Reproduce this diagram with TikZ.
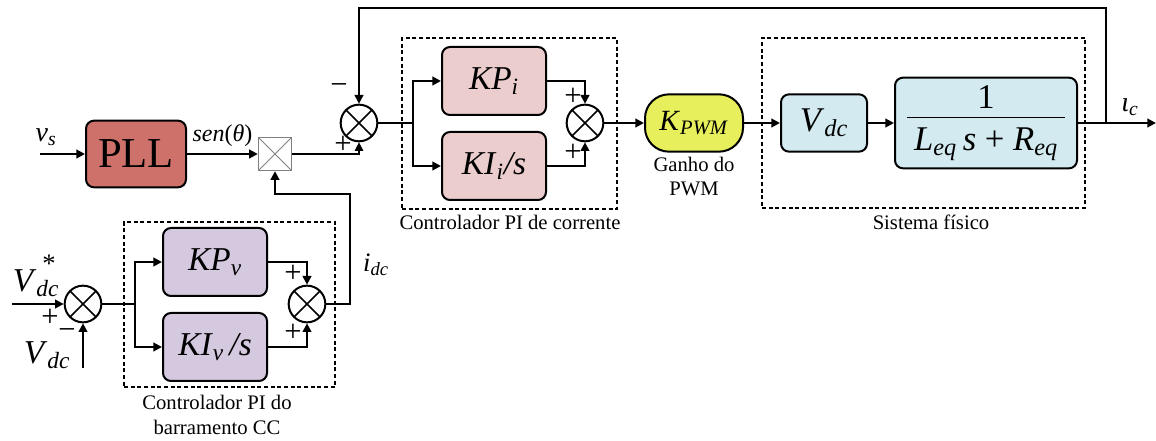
\documentclass[tikz,border=0pt]{standalone}
\usepackage{fontspec}
\setmainfont{Liberation Serif}
\usetikzlibrary{
    positioning,                      % below=of, etc.
    arrows.meta                       % puntas Triangle
}
\definecolor{pll_red}{RGB}{206,113,106}
\definecolor{pi_pink}{RGB}{236,205,205}
\definecolor{pi_lilac}{RGB}{213,201,224}
\definecolor{pwm_yellow}{RGB}{231,240,92}
\definecolor{plant_blue}{RGB}{210,234,240}
% texto italico con subindice
\newcommand{\isub}[2]{\textit{#1}\textsubscript{\textit{#2}}}
\newcommand{\fsz}[1]{\fontsize{#1}{#1}\selectfont}

\begin{document}
\begin{tikzpicture}[
      x=0.75pt, y=-0.75pt,
      >={Triangle[length=6.5pt,width=6.5pt]},
      blk/.style  ={draw, line width=1.5pt, rounded corners=6pt, inner sep=0pt, align=center},
      pib/.style  ={blk, minimum width=78pt, minimum height=51pt, font=\fsz{25}},
      sumj/.style ={circle, draw, line width=1.5pt, minimum size=27.5pt, inner sep=0pt,
                    path picture={\draw[line width=1.2pt]
                      (path picture bounding box.north west) -- (path picture bounding box.south east)
                      (path picture bounding box.north east) -- (path picture bounding box.south west);}},
      mult/.style ={draw=gray, line width=0.8pt, minimum size=25pt, inner sep=0pt,
                    path picture={\draw[line width=0.6pt]
                      (path picture bounding box.north west) -- (path picture bounding box.south east)
                      (path picture bounding box.north east) -- (path picture bounding box.south west);}},
      grp/.style  ={draw, dashed, dash pattern=on 3pt off 2pt, line width=1.2pt, inner sep=0pt},
      capt/.style ={font=\fsz{15.5}, align=center, inner sep=0pt},
      sgn/.style  ={font=\fsz{23}, inner sep=0pt},
      sig/.style  ={font=\fsz{18}, inner sep=0pt},
      df/.style   ={->, line width=1.5pt},
      ln/.style   ={line width=1.5pt}
    ]
    \useasboundingbox (0,0) rectangle (1156,441);

    % --- Grupos (cajas punteadas) ---
    \node[grp, minimum width=161.25pt, minimum height=128.25pt] (g_pii)  at (509.5,123.5) {};
    \node[grp, minimum width=242.25pt, minimum height=127.5pt]  (g_sys)  at (923.5,123) {};
    \node[grp, minimum width=158.25pt, minimum height=123.75pt] (g_piv)  at (229.5,304.5) {};

    \node[capt] (l_pii) at (510,222) {Controlador PI de corrente};
    \node[capt] (l_sys) at (931,222) {Sistema físico};
    \node[capt] (l_piv) at (217,415) {Controlador PI do\\[3pt]barramento CC};

    % --- Lazo de corriente (fila superior) ---
    \node[blk, fill=pll_red, minimum width=75pt, minimum height=50pt, font=\fsz{32}] (pll) at (136,154) {PLL};
    \node[mult] (mul) at (275,154) {};
    \node[sumj] (s_i) at (359,123) {};
    \node[pib, fill=pi_pink] (kpi) at (494,81)  {\isub{KP}{i}};
    \node[pib, fill=pi_pink] (kii) at (494,166) {\isub{KI}{i}\textit{/s}};
    \node[sumj] (s_pi) at (585,123) {};
    \node[blk, fill=pwm_yellow, rounded corners=18pt, minimum width=73.5pt, minimum height=43pt,
          font=\fsz{22}] (kpwm) at (694,123) {\isub{K}{PWM}};
    \node[capt, below=3pt of kpwm] (l_pwm) {Ganho do\\[3pt]PWM};
    \node[blk, fill=plant_blue, minimum width=64.5pt, minimum height=43pt, font=\fsz{26}] (vdc) at (824,123) {\isub{V}{dc}};
    \node[blk, fill=plant_blue, minimum width=136.5pt, minimum height=68pt, font=\fsz{26}] (plant) at (986,123)
        {\setlength{\arrayrulewidth}{0.8pt}%
         \begin{tabular}{@{\hspace{5pt}}c@{\hspace{5pt}}}1\\[-2pt]\hline
         \rule{0pt}{25pt}\isub{L}{eq}\,\textit{s} + \isub{R}{eq}\end{tabular}};

    % --- Lazo de tension CC (fila inferior) ---
    \node[sumj] (s_v) at (83,304) {};
    \node[pib, fill=pi_lilac] (kpv) at (215,262) {\isub{KP}{v}};
    \node[pib, fill=pi_lilac] (kiv) at (215,347) {\isub{KI}{v}\,\textit{/s}};
    \node[sumj] (s_pv) at (307,304) {};

    % --- Puntos auxiliares ---
    \coordinate (vs_in)  at (40,154);
    \coordinate (br_i)   at (413,123);
    \coordinate (br_v)   at (135,304);
    \coordinate (fb)     at (1106,123);
    \coordinate (fb_top) at (1106,8);
    \coordinate (ic_out) at (1156,123);
    \coordinate (idc_c)  at (350,194);
    \coordinate (vref)   at (12,304);
    \coordinate (vmed)   at (83,368);

    % --- Flechas lazo de corriente ---
    \draw[df] (vs_in) -- (pll);
    \draw[df] (pll) -- node[sig, above=5pt]{\textit{sen}(\textit{θ})} (mul);
    \draw[->, line width=0.8pt] (mul.east) -| (s_i.south);
    \draw[df] (fb) -- (fb_top) -| (s_i.north);
    \draw[ln] (s_i.east) -- (br_i);
    \draw[df] (br_i) |- (kpi.west);
    \draw[df] (br_i) |- (kii.west);
    \draw[df] (kpi.east) -| (s_pi.north);
    \draw[df] (kii.east) -| (s_pi.south);
    \draw[df] (s_pi) -- (kpwm);
    \draw[df] (kpwm) -- (vdc);
    \draw[df] (vdc) -- (plant);
    \draw[df] (plant) -- (ic_out);

    % --- Flechas lazo de tension ---
    \draw[df] (vref) -- (s_v.west);
    \draw[df] (vmed) -- (s_v.south);
    \draw[ln] (s_v.east) -- (br_v);
    \draw[df] (br_v) |- (kpv.west);
    \draw[df] (br_v) |- (kiv.west);
    \draw[df] (kpv.east) -| (s_pv.north);
    \draw[df] (kiv.east) -| (s_pv.south);
    \draw[df] (s_pv.east) -| (idc_c) -| (mul.south);

    % --- Senales y signos ---
    \node[sig, font=\fsz{21}] (t_vs)  at (46,137)   {\isub{v}{s}};
    \node[sig, font=\fsz{20}] (t_idc) at (376,265)  {\isub{i}{dc}};
    \node[sig, font=\fsz{21}] (t_ic) at (1130,107) {\isub{ι}{c}};
    \node[sig, font=\fsz{25}] (t_vr) at (36,283) {\isub{V}{dc}};
    \node[sig, font=\fsz{20}] (t_vr_s) at (49,264) {*};
    \node[sig, font=\fsz{25}] (t_vm) at (47,355) {\isub{V}{dc}};

    \node[sgn] (m_i)  at (339,89)  {−};
    \node[sgn] (p_i)  at (343,145) {+};
    \node[sgn] (p_a)  at (573,97)  {+};
    \node[sgn] (p_b)  at (573,153) {+};
    \node[sgn] (p_c)  at (293,274) {+};
    \node[sgn] (p_d)  at (293,333) {+};
    \node[sgn] (p_v)  at (50,318)  {+};
    \node[sgn] (m_v)  at (67,334)  {−};

  \end{tikzpicture}
\end{document}
